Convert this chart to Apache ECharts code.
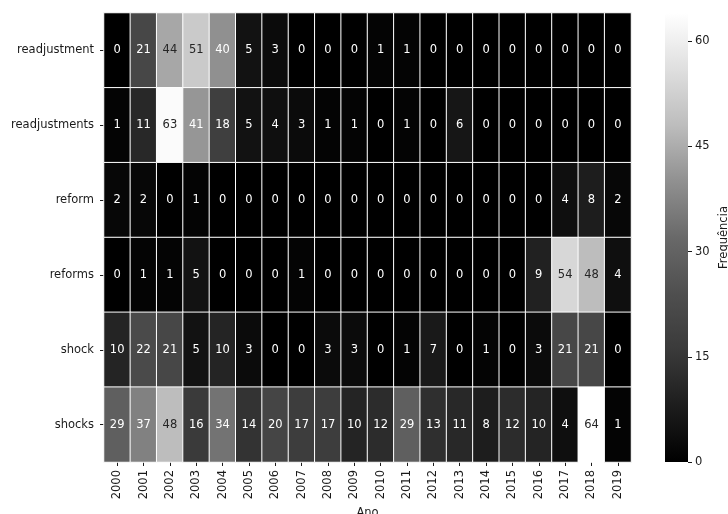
<!DOCTYPE html>
<html>
<head>
<meta charset="utf-8">
<script src="https://cdn.jsdelivr.net/npm/echarts@6/dist/echarts.min.js"></script>
<style>
  html, body { margin: 0; padding: 0; background: #fff; }
  #chart { width: 728px; height: 514px; }
</style>
</head>
<body>
<div id="chart"></div>
<script>
// Years along the x axis, terms along the y axis
const years = ['2000','2001','2002','2003','2004','2005','2006','2007','2008','2009',
               '2010','2011','2012','2013','2014','2015','2016','2017','2018','2019'];
const terms = ['readjustment', 'readjustments', 'reform', 'reforms', 'shock', 'shocks'];

// Yearly counts per term
const readjustment  = [0, 21, 44, 51, 40, 5, 3, 0, 0, 0, 1, 1, 0, 0, 0, 0, 0, 0, 0, 0];
const readjustments = [1, 11, 63, 41, 18, 5, 4, 3, 1, 1, 0, 1, 0, 6, 0, 0, 0, 0, 0, 0];
const reform        = [2, 2, 0, 1, 0, 0, 0, 0, 0, 0, 0, 0, 0, 0, 0, 0, 0, 4, 8, 2];
const reforms       = [0, 1, 1, 5, 0, 0, 0, 1, 0, 0, 0, 0, 0, 0, 0, 0, 9, 54, 48, 4];
const shock         = [10, 22, 21, 5, 10, 3, 0, 0, 3, 3, 0, 1, 7, 0, 1, 0, 3, 21, 21, 0];
const shocks        = [29, 37, 48, 16, 34, 14, 20, 17, 17, 10, 12, 29, 13, 11, 8, 12, 10, 4, 64, 1];

// Colour scale range and colourbar ticks
const scaleMin = 0;
const scaleMax = 64;
const colorbarTicks = [0, 15, 30, 45, 60];

// Grey ramp, evenly spaced from scaleMin (black) to scaleMax (white)
const greyRamp = ['#000000', '#1d1d1d', '#3a3a3a', '#4f4f4f', '#696969',
                  '#909090', '#bdbdbd', '#dfdfdf', '#ffffff'];

const rows = [readjustment, readjustments, reform, reforms, shock, shocks];

const FONT = 'DejaVu Sans';
const FS = 11.5;
const TEXT = '#1a1a1a';

// Light cells get dark annotation text, dark cells white text
const cells = [];
rows.forEach((row, yi) => {
  row.forEach((v, xi) => {
    cells.push({
      value: [xi, yi, v],
      label: { color: v >= 44 ? '#262626' : '#ffffff' }
    });
  });
});

const chart = echarts.init(document.getElementById('chart'), null, { renderer: 'canvas' });

chart.setOption({
  animation: false,
  backgroundColor: '#ffffff',
  grid: [
    { left: 104, top: 13, width: 527, height: 449, outerBoundsMode: 'none', containLabel: false },
    { left: 665, top: 13, width: 23, height: 449, outerBoundsMode: 'none', containLabel: false }
  ],
  xAxis: [
    {
      type: 'category',
      gridIndex: 0,
      data: years,
      position: 'bottom',
      name: 'Ano',
      nameLocation: 'middle',
      nameGap: 43,
      nameTextStyle: { fontFamily: FONT, fontSize: FS, color: TEXT },
      axisLine: { show: false },
      axisTick: { show: true, alignWithLabel: true, length: 4, lineStyle: { color: TEXT, width: 1 } },
      axisLabel: { rotate: 90, margin: 8, fontFamily: FONT, fontSize: FS, color: TEXT },
      splitLine: { show: false }
    },
    {
      type: 'category',
      gridIndex: 1,
      data: ['cb'],
      show: false
    }
  ],
  yAxis: [
    {
      type: 'category',
      gridIndex: 0,
      data: terms,
      inverse: true,
      axisLine: { show: false },
      axisTick: { show: true, alignWithLabel: true, length: 4, lineStyle: { color: TEXT, width: 1 } },
      axisLabel: { margin: 10, fontFamily: FONT, fontSize: FS, color: TEXT },
      splitLine: { show: false }
    },
    {
      type: 'value',
      gridIndex: 1,
      min: scaleMin,
      max: scaleMax,
      position: 'right',
      name: 'Frequência',
      nameLocation: 'middle',
      nameRotate: 90,
      nameGap: 30,
      nameTextStyle: { fontFamily: FONT, fontSize: FS, color: TEXT },
      axisLine: { show: false },
      axisTick: { show: true, length: 4, customValues: colorbarTicks, lineStyle: { color: TEXT, width: 1 } },
      axisLabel: { margin: 7, customValues: colorbarTicks, fontFamily: FONT, fontSize: FS, color: TEXT },
      splitLine: { show: false }
    }
  ],
  visualMap: {
    show: false,
    type: 'continuous',
    min: scaleMin,
    max: scaleMax,
    dimension: 2,
    seriesIndex: 0,
    inRange: { color: greyRamp }
  },
  series: [
    {
      type: 'heatmap',
      xAxisIndex: 0,
      yAxisIndex: 0,
      data: cells,
      label: {
        show: true,
        fontFamily: FONT,
        fontSize: FS,
        formatter: p => String(p.value[2])
      },
      itemStyle: { borderColor: '#ffffff', borderWidth: 1 },
      emphasis: { disabled: true },
      silent: true
    },
    {
      // colourbar, same ramp running bottom (black) to top (white)
      type: 'bar',
      xAxisIndex: 1,
      yAxisIndex: 1,
      data: [scaleMax],
      barWidth: '100%',
      silent: true,
      itemStyle: {
        color: new echarts.graphic.LinearGradient(0, 1, 0, 0,
          greyRamp.map((c, i) => ({ offset: i / (greyRamp.length - 1), color: c })))
      }
    }
  ]
});
</script>
</body>
</html>
